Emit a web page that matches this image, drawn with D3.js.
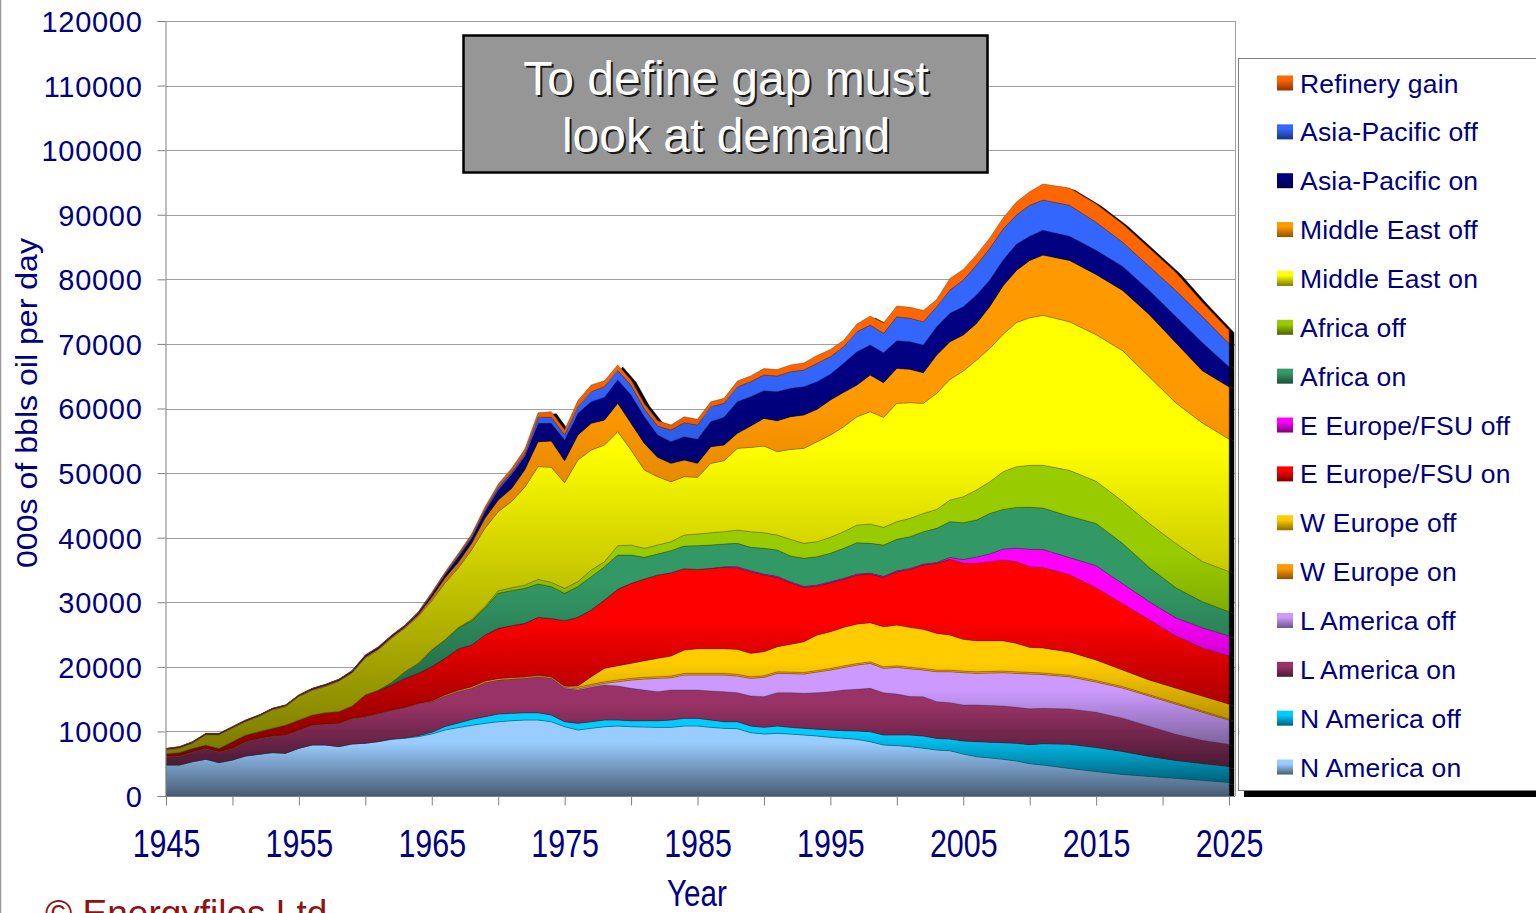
<!DOCTYPE html>
<html>
<head>
<meta charset="utf-8">
<script src="https://cdn.jsdelivr.net/npm/d3@7"></script>
<style>
  body { margin: 0; background: #fff; }
  svg { display: block; font-family: "Liberation Sans", Arial, sans-serif; }
</style>
</head>
<body>
<div class="chart"></div>
<script>

// years (annual to 2010, then every second year)
const years = [1945,1946,1947,1948,1949,1950,1951,1952,1953,1954,
  1955,1956,1957,1958,1959,1960,1961,1962,1963,1964,
  1965,1966,1967,1968,1969,1970,1971,1972,1973,1974,
  1975,1976,1977,1978,1979,1980,1981,1982,1983,1984,
  1985,1986,1987,1988,1989,1990,1991,1992,1993,1994,
  1995,1996,1997,1998,1999,2000,2001,2002,2003,2004,
  2005,2006,2007,2008,2009,2010,2011,2013,2015,2017,
  2019,2021,2023,2025];

// 000s of bbls oil per day, per region
const naOn = [4800,4800,5320,5690,5170,5580,6200,6460,6720,6620,
  7390,7910,7910,7650,8060,8170,8420,8790,8940,9200,
  9610,10230,10600,10940,11250,11510,11660,11770,11770,11510,
  10730,10220,10480,10730,10840,10730,10680,10630,10630,10840,
  10840,10630,10480,10430,9810,9600,9700,9600,9450,9300,
  9080,8950,8770,8410,7900,7800,7640,7400,7120,7020,
  6500,6090,5900,5680,5420,5000,4790,4270,3780,3340,
  3030,2730,2420,2100];
const naOff = [0,0,0,0,0,0,0,0,0,0,
  0,0,0,0,0,10,20,40,80,150,
  260,520,700,930,1030,1190,1140,1130,1130,1030,
  780,1030,1030,1040,930,930,980,1030,1140,1190,
  1190,1140,1030,1080,1030,1030,1140,1030,1030,1050,
  1140,1170,1290,1550,1550,1650,1810,1890,1800,1800,
  2020,2320,2430,2580,2730,2950,3310,3730,3730,3550,
  3100,2780,2600,2480];
const laOn = [1250,1350,1500,1650,1650,1760,2170,2430,2530,2790,
  2790,3050,3200,3570,3930,4070,4330,4450,4680,4970,
  4760,4710,4900,4810,5270,5260,5310,5320,5580,5680,
  5160,5160,5310,5420,5260,5010,4750,4490,4640,4380,
  4380,4490,4640,4490,4640,4750,5160,5370,5420,5650,
  5930,6290,6480,6710,6550,6340,5950,6090,5690,5630,
  5570,5680,5670,5670,5580,5550,5470,5490,5470,5160,
  4680,4040,3600,3420];
const laOff = [0,0,0,0,0,0,0,0,0,0,
  0,0,0,0,0,0,0,0,0,0,
  0,0,0,0,0,0,0,0,0,0,
  150,160,210,250,670,1290,1700,2070,1910,2320,
  2320,2470,2580,2580,2740,2990,2990,2950,2990,3200,
  3360,3490,3740,3870,3770,4130,4300,4130,4640,4800,
  5010,4900,5050,5170,5260,5400,5230,4970,4670,4660,
  4660,4680,4360,3740];
const weOn = [50,50,50,50,50,50,50,50,50,50,
  50,50,50,50,50,50,50,50,50,60,
  100,200,200,250,250,250,250,230,220,230,
  210,260,260,260,260,260,260,260,260,260,
  260,260,260,260,250,250,250,250,250,250,
  250,250,250,250,250,250,250,250,250,250,
  250,250,250,250,250,250,250,250,240,230,
  220,210,200,200];
const weOff = [0,0,0,0,0,0,0,0,0,0,
  0,0,0,0,0,0,0,0,0,0,
  0,0,0,0,0,0,0,0,0,0,
  0,210,1190,2070,2220,2320,2580,2830,3100,3620,
  3820,3820,3820,3870,3620,3730,3880,4300,4760,5480,
  5680,5960,6100,6050,6200,6310,6160,6050,5690,5430,
  4910,4810,4750,4700,4400,3870,3880,3600,3170,2570,
  2270,2270,2290,2290];
const eeOn = [500,520,520,520,520,1030,1040,1030,1190,1550,
  1550,1550,1760,1810,1910,3360,3510,3880,4490,4640,
  5320,5680,6400,6460,7130,7750,8010,8280,8960,9050,
  10120,10630,10320,10580,11820,12390,12650,12910,12900,12590,
  12280,12440,12590,12640,12640,11870,10740,9530,8410,7580,
  7590,7440,7590,7530,7640,8250,8980,9960,10830,11710,
  11760,11970,12230,12490,12640,12490,12440,11940,11190,10270,
  9320,8080,7460,7460];
const eeOff = [0,0,0,0,0,0,0,0,0,0,
  0,0,0,0,0,0,0,0,0,0,
  0,0,0,0,0,0,0,0,0,0,
  0,0,0,0,0,0,0,0,0,0,
  0,0,110,160,150,150,150,150,150,150,
  150,150,150,150,150,150,150,150,150,300,
  600,1000,1200,1700,2100,2700,2800,2660,3420,3090,
  2800,2800,3110,3100];
const afOn = [0,0,0,0,0,0,0,0,0,0,
  0,0,0,0,0,0,100,400,1040,1550,
  2590,2850,3200,3710,4130,5420,5420,5420,5160,4910,
  4230,4750,5160,5160,5310,4380,3350,3250,3410,3510,
  3670,3610,3510,3610,3620,3980,4080,3980,4340,4400,
  4390,4650,4850,4600,4850,4860,4910,5010,5270,5540,
  5700,5710,6280,6140,6310,6490,6410,6410,6540,6230,
  5290,4660,4040,3730];
const afOff = [0,0,0,0,0,0,0,0,0,0,
  0,0,0,0,0,0,0,0,0,0,
  0,0,100,210,250,400,450,500,730,670,
  770,780,1030,770,1450,1550,1400,1390,1390,1700,
  1810,1910,1910,2060,2430,2420,2320,2580,2320,2320,
  2480,2580,2740,2990,2740,2740,2840,2830,2940,3350,
  4020,4650,4910,5840,6300,6500,6640,7100,6530,6530,
  6840,6850,6220,6230];
const meOn = [530,670,780,1550,2070,2070,2070,2330,2840,2840,
  3620,3770,4030,4650,5070,5680,6210,6830,6720,7230,
  7600,8800,9200,10790,12130,12240,13360,15150,17450,17810,
  16360,18830,18580,18060,17650,14710,12120,10580,9280,9030,
  8770,10740,10990,12650,13050,13420,12900,13930,14710,15480,
  15840,16250,16770,17400,17030,18320,17910,17040,17970,18680,
  19460,20120,20640,21280,22310,22850,23200,23010,22690,23320,
  22700,21770,21460,20510];
const meOff = [100,100,100,110,110,110,100,110,110,110,
  110,150,150,150,150,200,200,200,210,330,
  550,780,900,1030,1550,1810,2000,2700,3860,4070,
  3410,3870,4130,3870,4390,4130,4130,3000,2850,2580,
  2170,2580,2420,2330,3310,4280,4800,5060,5160,5010,
  5420,5320,4910,5670,5370,5420,5160,4740,5930,5830,
  5580,5680,6490,7500,8080,8880,9330,9500,9330,9320,
  9630,9320,8080,8090];
const apOn = [100,100,100,100,100,100,100,100,100,100,
  100,150,150,150,180,220,220,220,200,300,
  450,510,800,770,1030,1550,2200,2100,2840,2740,
  3200,3360,3350,3520,3610,4390,4130,3450,3350,3620,
  3720,3870,4290,4890,4540,4290,4490,4390,4390,4280,
  4000,4490,5160,4650,4640,4280,4280,4290,4390,4390,
  4380,4390,4090,4000,4050,3740,3860,3740,3740,3730,
  3730,4040,4350,3110];
const apOff = [0,0,0,0,0,0,0,0,0,0,
  0,0,0,0,0,0,0,0,0,0,
  0,100,200,260,260,410,300,400,930,930,
  770,1030,1550,1650,1500,1500,1200,1400,1800,2160,
  2210,2320,2170,2310,2320,2420,2430,2580,2580,2840,
  2710,2580,3090,3090,3000,3710,3620,3610,3100,3610,
  4130,4650,4910,4800,4530,4800,4660,4800,4350,3740,
  3730,4040,4040,3610];
const refineryGain = [60,60,50,50,50,50,50,50,50,50,
  50,60,60,60,80,100,100,100,100,150,
  300,300,350,400,450,500,600,700,720,870,
  780,930,1030,930,820,800,770,820,780,930,
  880,770,770,880,900,1000,1000,1050,1100,1200,
  1100,1000,1200,1400,1600,1650,1700,1750,1100,1800,
  1650,1600,1600,1700,2000,2100,2490,2660,2800,2800,
  2800,2800,2180,1990];

// stacking order, bottom first
const seriesNames = ["N America on", "N America off", "L America on", "L America off",
  "W Europe on", "W Europe off", "E Europe/FSU on", "E Europe/FSU off",
  "Africa on", "Africa off", "Middle East on", "Middle East off",
  "Asia-Pacific on", "Asia-Pacific off", "Refinery gain"];
const seriesValues = [naOn, naOff, laOn, laOff, weOn, weOff, eeOn, eeOff,
  afOn, afOff, meOn, meOff, apOn, apOff, refineryGain];
const topColors = ["#99ccff", "#00ccff", "#993366", "#cc99ff", "#ff9900", "#ffcc00", "#ff0000", "#ff00ff",
  "#339966", "#99cc00", "#ffff00", "#ff9900", "#000080", "#3366ff", "#ff6600"];
const bottomColors = ["#485c74", "#006078", "#4a1a32", "#6a5686", "#8a5200", "#8a6c00", "#7a0000", "#7a007a",
  "#1a4d33", "#4a6300", "#7a7a00", "#8f5500", "#000040", "#1a3380", "#8f3300"];

const yTicks = d3.range(0, 120001, 10000);
const xTicks = d3.range(1945, 2026, 5);

const table = years.map((yr, i) => {
  const row = { year: yr };
  seriesNames.forEach((n, j) => { row[n] = seriesValues[j][i]; });
  return row;
});

const svg = d3.select(".chart").append("svg")
  .attr("width", 1536)
  .attr("height", 913);

svg.append("rect").attr("width", 1536).attr("height", 913).attr("fill", "#fff");

const defs = svg.append("defs");

seriesNames.forEach((n, j) => {
  const g = defs.append("linearGradient")
    .attr("id", "grad" + j)
    .attr("x1", 0).attr("y1", 0).attr("x2", 0).attr("y2", 1);
  g.append("stop").attr("offset", 0).attr("stop-color", topColors[j]);
  g.append("stop").attr("offset", 0.3).attr("stop-color", topColors[j]);
  g.append("stop").attr("offset", 1).attr("stop-color", bottomColors[j]);
});

defs.append("filter")
  .attr("id", "shadow")
  .attr("x", "-5%").attr("y", "-5%").attr("width", "115%").attr("height", "115%")
  .append("feDropShadow")
  .attr("dx", 5).attr("dy", 2).attr("stdDeviation", 0.3)
  .attr("flood-color", "#000").attr("flood-opacity", 1);

defs.append("clipPath").attr("id", "plotClip")
  .append("rect").attr("x", 0).attr("y", 0).attr("width", 1240).attr("height", 796);

const x = d3.scaleLinear().domain([1945, 2025]).range([166, 1229]);
const y = d3.scaleLinear().domain([0, 120000]).range([796, 21]);

// left page edge
svg.append("line").attr("x1", 0.5).attr("x2", 0.5).attr("y1", 0).attr("y2", 913)
  .attr("stroke", "#9a9a9a").attr("stroke-width", 1.5);

// gridlines
svg.append("g").selectAll("line")
  .data(yTicks.filter(d => d > 0))
  .join("line")
  .attr("x1", 166).attr("x2", 1235)
  .attr("y1", d => Math.round(y(d)) + 0.5).attr("y2", d => Math.round(y(d)) + 0.5)
  .attr("stroke", "#a0a0a0");

svg.append("line").attr("x1", 1235.5).attr("x2", 1235.5).attr("y1", y(120000)).attr("y2", 796)
  .attr("stroke", "#a0a0a0");

// stacked areas
const stacked = d3.stack().keys(seriesNames)(table);

const area = d3.area()
  .x(d => x(d.data.year))
  .y0(d => y(d[0]))
  .y1(d => y(d[1]));

svg.append("g").attr("clip-path", "url(#plotClip)")
  .append("g").attr("filter", "url(#shadow)")
  .selectAll("path")
  .data(stacked)
  .join("path")
  .attr("d", area)
  .attr("fill", (d, j) => `url(#grad${j})`)
  .attr("stroke", (d, j) => d3.color(bottomColors[j]).darker(0.6))
  .attr("stroke-opacity", 0.6)
  .attr("stroke-width", 0.7);

// axes
const yAxis = svg.append("g")
  .attr("transform", "translate(165.5,0)")
  .call(d3.axisLeft(y).tickValues(yTicks).tickSize(8).tickFormat(d3.format("d")));
yAxis.select(".domain").attr("stroke", "#808080");
yAxis.selectAll(".tick line").attr("stroke", "#808080");
yAxis.selectAll(".tick text")
  .attr("x", -23)
  .attr("dy", "0.36em")
  .attr("fill", "#000080")
  .style("font-size", "29px")
  .style("letter-spacing", "0.7px")
  .style("font-family", "'Liberation Sans', Arial, sans-serif");

const xAxis = svg.append("g")
  .attr("transform", "translate(0,796.5)")
  .call(d3.axisBottom(x).tickValues(xTicks).tickSize(9).tickSizeOuter(0)
    .tickFormat(d => d % 10 === 5 ? d : ""));
xAxis.select(".domain").remove();
xAxis.selectAll(".tick line").attr("stroke", "#808080");
xAxis.selectAll(".tick text")
  .attr("y", 61)
  .attr("dy", null)
  .attr("transform", "scale(0.8,1)")
  .attr("fill", "#000080")
  .style("font-size", "38px")
  .style("font-family", "'Liberation Sans', Arial, sans-serif");

svg.append("line").attr("x1", 160).attr("x2", 1235).attr("y1", 796.5).attr("y2", 796.5)
  .attr("stroke", "#808080");

// axis titles
svg.append("text")
  .attr("transform", "translate(37,403) rotate(-90)")
  .attr("text-anchor", "middle")
  .attr("fill", "#000080")
  .style("font-size", "30px")
  .attr("textLength", 330)
  .attr("lengthAdjust", "spacingAndGlyphs")
  .text("000s of bbls oil per day");

svg.append("text")
  .attr("transform", "translate(697,906) scale(0.8,1)")
  .attr("text-anchor", "middle")
  .attr("fill", "#000080")
  .style("font-size", "37px")
  .text("Year");

svg.append("text")
  .attr("x", 45).attr("y", 926)
  .attr("fill", "#8c1414")
  .style("font-size", "37px")
  .text("\u00a9 Energyfiles Ltd");

// annotation box
svg.append("rect")
  .attr("x", 463.5).attr("y", 35.5).attr("width", 524).attr("height", 137)
  .attr("fill", "#969696").attr("stroke", "#000").attr("stroke-width", 2.5);

const noteLines = ["To define gap must", "look at demand"];
const noteY = [95, 152];
noteLines.forEach((t, i) => {
  svg.append("text").attr("x", 728).attr("y", noteY[i] + 2)
    .attr("text-anchor", "middle").attr("fill", "#1a1a1a")
    .style("font-size", "48px").text(t);
  svg.append("text").attr("x", 726).attr("y", noteY[i])
    .attr("text-anchor", "middle").attr("fill", "#fff")
    .style("font-size", "48px").text(t);
});

// legend
svg.append("rect").attr("x", 1244).attr("y", 64).attr("width", 300).attr("height", 733).attr("fill", "#000");
svg.append("rect").attr("x", 1238.5).attr("y", 58.5).attr("width", 310).attr("height", 732)
  .attr("fill", "#fff").attr("stroke", "#808080");

const legend = svg.append("g");
const legendOrder = d3.range(seriesNames.length).reverse();
legendOrder.forEach((j, i) => {
  const cy = 83 + i * 48.86;
  legend.append("rect")
    .attr("x", 1277).attr("y", cy - 7.5).attr("width", 16).attr("height", 15)
    .attr("fill", `url(#grad${j})`);
  legend.append("text")
    .attr("x", 1300).attr("y", cy + 9.5)
    .attr("fill", "#000080")
    .style("font-size", "26.5px")
    .style("letter-spacing", "0.2px")
    .text(seriesNames[j]);
});
</script>
</body>
</html>
